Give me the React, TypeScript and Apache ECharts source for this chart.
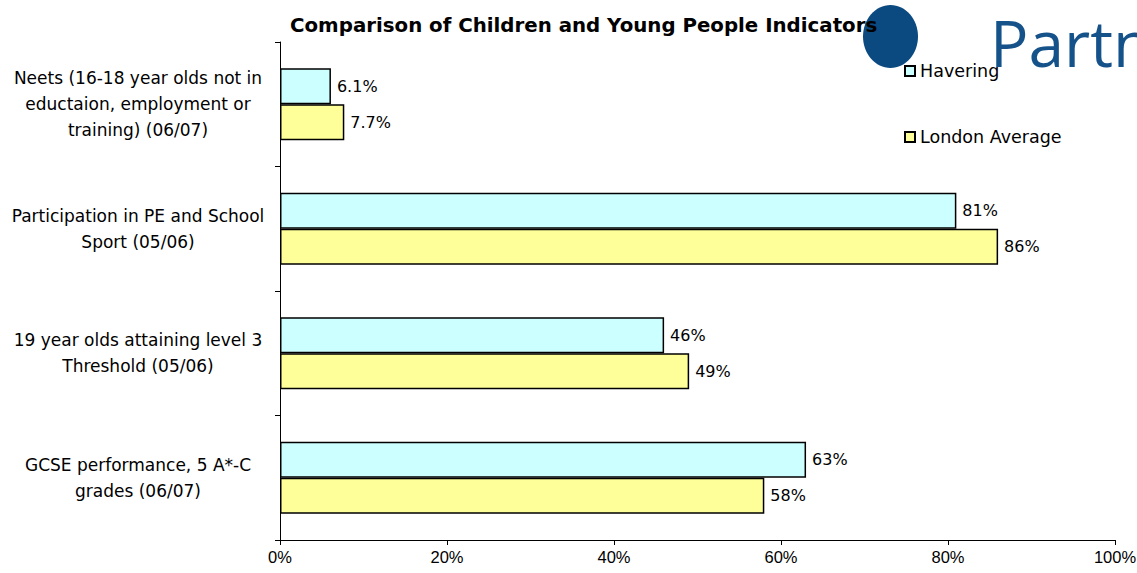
import React, { useEffect, useRef } from "react";
import * as echarts from "echarts";

const categories = [
  "Neets (16-18 year olds not in\neductaion, employment or\ntraining) (06/07)",
  "Participation in PE and School\nSport (05/06)",
  "19 year olds attaining level 3\nThreshold (05/06)",
  "GCSE performance, 5 A*-C\ngrades (06/07)",
];
const havering = [6.1, 81, 46, 63];
const londonAverage = [7.7, 86, 49, 58];
const seriesNames = ["Havering", "London Average"];

const WIDE = "'DejaVu Sans', Verdana, sans-serif";
const ARIAL = "'Liberation Sans', Arial, sans-serif";

const fmt = (p: any) => {
  const v = p.value as number;
  return (v < 10 ? v.toFixed(1) : String(Math.round(v))) + "%";
};

export default function App() {
  const ref = useRef<HTMLDivElement>(null);
  useEffect(() => {
    if (!ref.current) return;
    const chart = echarts.init(ref.current, null, { renderer: "svg" });
    const labelCfg = {
      show: true,
      position: "right",
      distance: 6,
      formatter: fmt,
      color: "#000",
      fontSize: 16,
      fontFamily: WIDE,
    };
    chart.setOption({
      animation: false,
      backgroundColor: "#fff",
      title: {
        text: "Comparison of Children and Young People Indicators",
        left: 285,
        top: 10,
        textStyle: {
          fontFamily: WIDE,
          fontSize: 19.8,
          fontWeight: "bold",
          color: "#000",
        },
        z: 10,
      },
      graphic: [
        {
          type: "ellipse",
          shape: { cx: 890.5, cy: 36.5, rx: 27.5, ry: 31.5 },
          style: { fill: "#0b4a80" },
          z: 0,
        },
        {
          type: "text",
          x: 990,
          y: 10,
          style: {
            text: "Partnership",
            font: "64px 'Open Sans', 'Noto Sans', sans-serif",
            fill: "#15528a",
            textVerticalAlign: "top",
          },
          z: 0,
        },
      ],
      legend: {
        orient: "vertical",
        left: 899,
        top: 57,
        itemWidth: 10,
        itemHeight: 10,
        itemGap: 48,
        icon: "rect",
        data: seriesNames,
        textStyle: { fontFamily: WIDE, fontSize: 17.5, color: "#000" },
        z: 10,
      },
      grid: {
        left: 280,
        right: 22,
        top: 42,
        bottom: 33,
        containLabel: false,
        outerBoundsMode: "none",
      },
      xAxis: {
        type: "value",
        min: 0,
        max: 100,
        interval: 20,
        axisLine: { show: true, lineStyle: { color: "#000", width: 1 } },
        axisTick: { show: true, length: 5, lineStyle: { color: "#000" } },
        splitLine: { show: false },
        axisLabel: {
          formatter: "{value}%",
          color: "#000",
          fontSize: 16.5,
          fontFamily: ARIAL,
          margin: 8,
        },
      },
      yAxis: {
        type: "category",
        inverse: true,
        data: categories,
        axisLine: { show: true, lineStyle: { color: "#000", width: 1 } },
        axisTick: { show: true, length: 5, lineStyle: { color: "#000" } },
        axisLabel: {
          color: "#000",
          fontSize: 17,
          fontFamily: WIDE,
          align: "center",
          margin: 142,
          lineHeight: 26,
        },
      },
      series: [
        {
          name: seriesNames[0],
          type: "bar",
          data: havering,
          barWidth: 36,
          barGap: "0%",
          itemStyle: { color: "#ccffff", borderColor: "#000", borderWidth: 1.5 },
          label: labelCfg,
        },
        {
          name: seriesNames[1],
          type: "bar",
          data: londonAverage,
          barWidth: 36,
          barGap: "0%",
          itemStyle: { color: "#ffff99", borderColor: "#000", borderWidth: 1.5 },
          label: labelCfg,
        },
      ],
    });
    return () => chart.dispose();
  }, []);
  return (
    <div
      ref={ref}
      style={{ position: "fixed", left: 0, top: 0, width: 1137, height: 573 }}
    />
  );
}
